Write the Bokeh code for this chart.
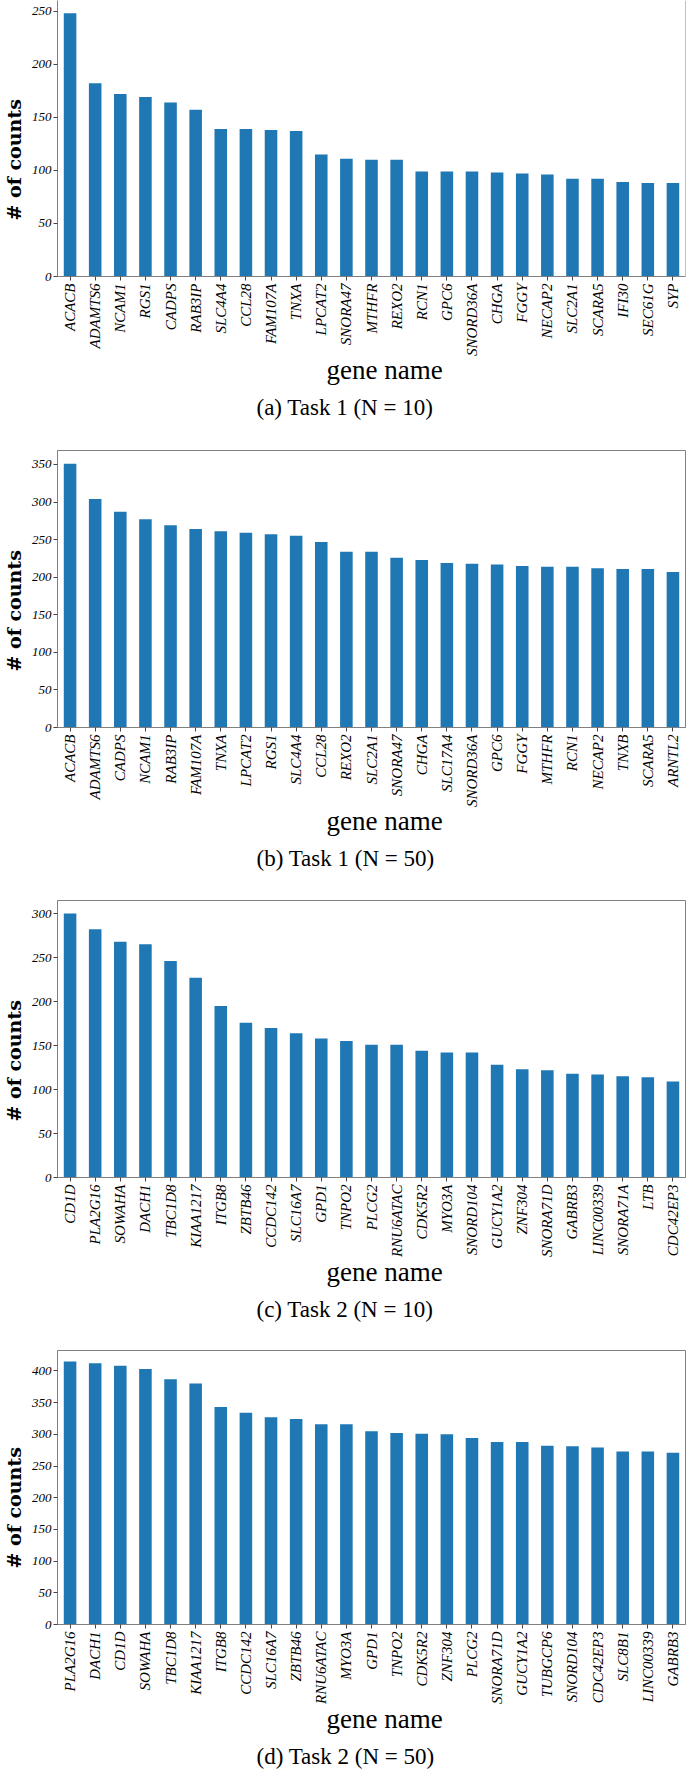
import math
from bokeh.plotting import figure
from bokeh.models import Range1d, FactorRange, Span, SingleIntervalTicker, ColumnDataSource, Title
from bokeh.layouts import column
from bokeh.embed import file_html
from bokeh.resources import INLINE

# ---------------- data ----------------
genes_a = ["ACACB", "ADAMTS6", "NCAM1", "RGS1", "CADPS", "RAB3IP", "SLC4A4", "CCL28",
           "FAM107A", "TNXA", "LPCAT2", "SNORA47", "MTHFR", "REXO2", "RCN1", "GPC6",
           "SNORD36A", "CHGA", "FGGY", "NECAP2", "SLC2A1", "SCARA5", "IFI30", "SEC61G", "SYP"]
counts_a = [248, 182, 172, 169, 164, 157, 139, 139, 138, 137, 115, 111, 110, 110, 99, 99,
            99, 98, 97, 96, 92, 92, 89, 88, 88]

genes_b = ["ACACB", "ADAMTS6", "CADPS", "NCAM1", "RAB3IP", "FAM107A", "TNXA", "LPCAT2",
           "RGS1", "SLC4A4", "CCL28", "REXO2", "SLC2A1", "SNORA47", "CHGA", "SLC17A4",
           "SNORD36A", "GPC6", "FGGY", "MTHFR", "RCN1", "NECAP2", "TNXB", "SCARA5", "ARNTL2"]
counts_b = [351, 304, 287, 277, 269, 264, 261, 259, 257, 255, 247, 234, 234, 226, 223, 219,
            218, 217, 215, 214, 214, 212, 211, 211, 207]

genes_c = ["CD1D", "PLA2G16", "SOWAHA", "DACH1", "TBC1D8", "KIAA1217", "ITGB8", "ZBTB46",
           "CCDC142", "SLC16A7", "GPD1", "TNPO2", "PLCG2", "RNU6ATAC", "CDK5R2", "MYO3A",
           "SNORD104", "GUCY1A2", "ZNF304", "SNORA71D", "GABRB3", "LINC00339", "SNORA71A",
           "LTB", "CDC42EP3"]
counts_c = [300, 282, 268, 265, 246, 227, 195, 176, 170, 164, 158, 155, 151, 151, 144, 142,
            142, 128, 123, 122, 118, 117, 115, 114, 109]

genes_d = ["PLA2G16", "DACH1", "CD1D", "SOWAHA", "TBC1D8", "KIAA1217", "ITGB8", "CCDC142",
           "SLC16A7", "ZBTB46", "RNU6ATAC", "MYO3A", "GPD1", "TNPO2", "CDK5R2", "ZNF304",
           "PLCG2", "SNORA71D", "GUCY1A2", "TUBGCP6", "SNORD104", "CDC42EP3", "SLC8B1",
           "LINC00339", "GABRB3"]
counts_d = [415, 412, 408, 403, 387, 380, 343, 334, 327, 324, 316, 316, 305, 302, 301, 300,
            294, 288, 288, 282, 281, 279, 273, 273, 271]

captions = ["(a) Task 1 (N = 10)", "(b) Task 1 (N = 50)",
            "(c) Task 2 (N = 10)", "(d) Task 2 (N = 50)"]
x_title = "gene name"
y_title = "# of counts"

# ---------------- style / layout ----------------
BAR = "#1f77b4"
SPINE = "#808080"
TICK = "#444444"
W = 687

layouts = [
    # (y_end, fig height, border top, border bottom, full outline)
    (260.0, 449, 0, 173, False),
    (368.6, 450, 1, 172, True),
    (314.8, 450, 1, 172, True),
    (432.2, 421, 1, 146, True),
]


def make_panel(genes, counts, caption, y_end, height, btop, bbot, outline):
    p = figure(x_range=FactorRange(factors=genes, range_padding=0),
               y_range=Range1d(0, y_end),
               width=W, height=height, output_backend="svg", toolbar_location=None,
               min_border_left=54, min_border_right=2,
               min_border_top=btop, min_border_bottom=bbot)
    src = ColumnDataSource(dict(gene=genes, count=counts))
    p.vbar(x="gene", top="count", width=0.5, source=src,
           fill_color=BAR, line_color=None)

    p.grid.visible = False
    p.background_fill_color = "white"
    p.border_fill_color = "white"
    if outline:
        p.outline_line_color = SPINE
        p.outline_line_width = 1
    else:
        p.outline_line_color = None
        p.add_layout(Span(location=len(genes), dimension="height",
                          line_color=SPINE, line_width=1))

    for ax in (p.xaxis, p.yaxis):
        ax.axis_line_color = SPINE
        ax.major_tick_line_color = TICK
        ax.minor_tick_line_color = None
        ax.major_tick_in = 0
        ax.major_label_text_font = "Liberation Serif"
        ax.major_label_text_font_style = "italic"
        ax.major_label_text_color = "black"

    p.yaxis.ticker = SingleIntervalTicker(interval=50, num_minor_ticks=0)
    p.yaxis.major_tick_out = 4
    p.yaxis.major_label_standoff = 2
    p.yaxis.major_label_text_font_size = "13px"

    p.xaxis.major_tick_out = 4
    p.xaxis.major_label_standoff = 3
    p.xaxis.major_label_orientation = math.pi / 2
    p.xaxis.major_label_text_font_size = "15px"

    # y-axis title
    p.add_layout(Title(text=y_title, align="left", offset=56, standoff=4,
                       vertical_align="top",
                       text_font="DejaVu Serif", text_font_size="19px",
                       text_font_style="bold", text_color="black"), "left")
    # x-axis title
    p.add_layout(Title(text=x_title, align="left", offset=269, standoff=-7,
                       vertical_align="top",
                       text_font="Liberation Serif", text_font_size="27px",
                       text_font_style="normal", text_color="black"), "below")
    # gap between axis title and caption
    p.add_layout(Title(text=" ", standoff=8, text_font_size="1px"), "below")
    # sub-figure caption
    p.add_layout(Title(text=caption, align="left", offset=199, standoff=0,
                       vertical_align="top",
                       text_font="Liberation Serif", text_font_size="23px",
                       text_font_style="normal", text_color="black"), "below")
    return p


data = [(genes_a, counts_a), (genes_b, counts_b), (genes_c, counts_c), (genes_d, counts_d)]
figs = []
for (g, c), cap, lay in zip(data, captions, layouts):
    figs.append(make_panel(g, c, cap, *lay))

page = column(*figs)
open("out.html", "w").write(file_html(page, INLINE))
